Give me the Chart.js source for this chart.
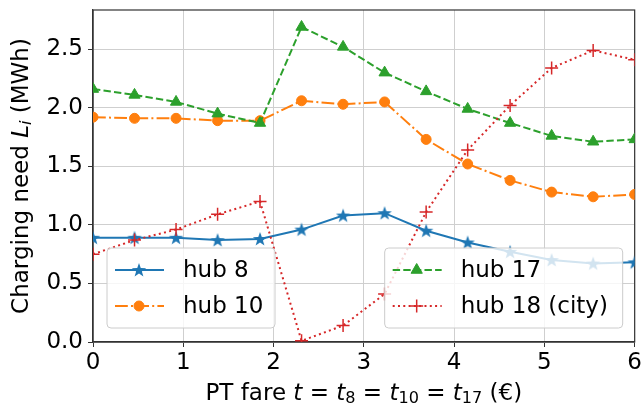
<!DOCTYPE html>
<html>
<head>
<meta charset="utf-8">
<script src="https://cdn.jsdelivr.net/npm/chart.js@4.4.1/dist/chart.umd.min.js"></script>
<style>
  html, body { margin: 0; padding: 0; background: #fff; }
  #wrap { width: 644px; height: 408px; }
</style>
</head>
<body>
<div id="wrap"><canvas id="chart" width="644" height="408"></canvas></div>
<script>
// PT fare (x) and charging need per hub (MWh)
const fares = [0, 0.46, 0.92, 1.38, 1.85, 2.31, 2.77, 3.23, 3.69, 4.15, 4.62, 5.08, 5.54, 6.0];
const hub8  = [0.89, 0.89, 0.89, 0.87, 0.88, 0.96, 1.08, 1.10, 0.95, 0.85, 0.77, 0.70, 0.67, 0.68];
const hub10 = [1.92, 1.91, 1.91, 1.89, 1.89, 2.06, 2.03, 2.05, 1.73, 1.52, 1.38, 1.28, 1.24, 1.26];
const hub17 = [2.16, 2.11, 2.05, 1.95, 1.87, 2.69, 2.52, 2.30, 2.14, 1.99, 1.87, 1.76, 1.71, 1.73];
const hub18 = [0.75, 0.87, 0.96, 1.09, 1.20, 0.01, 0.14, 0.41, 1.11, 1.64, 2.02, 2.34, 2.49, 2.41];
const xTicks = [0, 1, 2, 3, 4, 5, 6];
const yTicks = [0, 0.5, 1.0, 1.5, 2.0, 2.5];

const FONT = '"DejaVu Sans", sans-serif';
const FS = 23;

// filled star marker like matplotlib '*'
function makeStar(color) {
  const c = document.createElement("canvas");
  c.width = 18; c.height = 18;
  const g = c.getContext("2d");
  g.beginPath();
  for (let i = 0; i < 10; i++) {
    const r = i % 2 === 0 ? 7.5 : 3.0;
    const a = -Math.PI / 2 + i * Math.PI / 5;
    const px = 9 + r * Math.cos(a), py = 9.5 + r * Math.sin(a);
    if (i === 0) g.moveTo(px, py); else g.lineTo(px, py);
  }
  g.closePath();
  g.fillStyle = color;
  g.fill();
  return c;
}
const starImg = makeStar("#1f77b4");

function pts(ys) {
  return fares.map((x, i) => ({ x: x, y: ys[i] }));
}

const datasets = [
  { label: "hub 8", data: pts(hub8), borderColor: "#1f77b4", backgroundColor: "#1f77b4",
    borderWidth: 2, pointStyle: starImg, pointRadius: 7, borderDash: [], order: 4 },
  { label: "hub 10", data: pts(hub10), borderColor: "#ff7f0e", backgroundColor: "#ff7f0e",
    borderWidth: 2, pointStyle: "circle", pointRadius: 5, pointBorderWidth: 1, borderDash: [12.8, 3.2, 2, 3.2], order: 3 },
  { label: "hub 17", data: pts(hub17), borderColor: "#2ca02c", backgroundColor: "#2ca02c",
    borderWidth: 2, pointStyle: "triangle", pointRadius: 6.5, pointBorderWidth: 1, borderDash: [7.4, 3.2], order: 2 },
  { label: "hub 18 (city)", data: pts(hub18), borderColor: "#d62728", backgroundColor: "#d62728",
    borderWidth: 2, pointStyle: "cross", pointRadius: 6.5, pointBorderWidth: 1.5, borderDash: [2, 3.3], order: 1 },
];

// draw text pieces with italic / subscript parts
function drawRich(ctx, parts, size) {
  const widths = parts.map(p => {
    ctx.font = (p.it ? "italic " : "") + (p.sub ? size * 0.7 : size) + "px " + FONT;
    return ctx.measureText(p.t).width;
  });
  const total = widths.reduce((a, b) => a + b, 0);
  let x = -total / 2;
  parts.forEach((p, i) => {
    ctx.font = (p.it ? "italic " : "") + (p.sub ? size * 0.7 : size) + "px " + FONT;
    ctx.fillText(p.t, x, p.sub ? size * 0.22 : 0);
    x += widths[i];
  });
}

const titlesPlugin = {
  id: "titles",
  afterDraw(chart) {
    const ctx = chart.ctx, a = chart.chartArea;
    ctx.save();
    ctx.fillStyle = "#000";
    ctx.textBaseline = "middle";
    ctx.textAlign = "left";
    ctx.save();
    ctx.translate((a.left + a.right) / 2, 394);
    drawRich(ctx, [
      { t: "PT fare " }, { t: "t", it: 1 }, { t: " = " }, { t: "t", it: 1 }, { t: "8", sub: 1 },
      { t: " = " }, { t: "t", it: 1 }, { t: "10", sub: 1 }, { t: " = " }, { t: "t", it: 1 }, { t: "17", sub: 1 },
      { t: " (€)" }
    ], FS);
    ctx.restore();
    ctx.save();
    ctx.translate(22, (a.top + a.bottom) / 2);
    ctx.rotate(-Math.PI / 2);
    drawRich(ctx, [
      { t: "Charging need " }, { t: "L", it: 1 }, { t: "i", it: 1, sub: 1 }, { t: " (MWh)" }
    ], FS);
    ctx.restore();
    ctx.restore();
  }
};

const framePlugin = {
  id: "frame",
  beforeDatasetsDraw(chart) {
    const ctx = chart.ctx, a = chart.chartArea;
    ctx.save();
    ctx.strokeStyle = "#333";
    ctx.lineWidth = 1.2;
    ctx.strokeRect(a.left, a.top, a.right - a.left, a.bottom - a.top);
    ctx.restore();
  }
};

function drawLegendBox(chart, idxs, left, top, w, h) {
  const ctx = chart.ctx;
  ctx.save();
  ctx.beginPath();
  ctx.roundRect(left, top, w, h, 4);
  ctx.fillStyle = "rgba(255,255,255,0.8)";
  ctx.fill();
  ctx.strokeStyle = "#cccccc";
  ctx.lineWidth = 1;
  ctx.stroke();
  idxs.forEach((di, row) => {
    const ds = chart.data.datasets[di];
    const y = top + 22 + row * 36;
    ctx.beginPath();
    ctx.setLineDash(ds.borderDash);
    ctx.strokeStyle = ds.borderColor;
    ctx.lineWidth = ds.borderWidth;
    ctx.moveTo(left + 8, y);
    ctx.lineTo(left + 57, y);
    ctx.stroke();
    ctx.setLineDash([]);
    ctx.fillStyle = ds.backgroundColor;
    ctx.strokeStyle = ds.borderColor;
    ctx.lineWidth = ds.pointBorderWidth || 1;
    Chart.helpers.drawPoint(ctx, { pointStyle: ds.pointStyle, radius: ds.pointRadius, rotation: 0, borderWidth: ds.pointBorderWidth || 1 }, left + 32, y);
    ctx.fillStyle = "#000";
    ctx.font = FS + "px " + FONT;
    ctx.textBaseline = "middle";
    ctx.textAlign = "left";
    ctx.fillText(ds.label, left + 76, y + 1);
  });
  ctx.restore();
}

const legendPlugin = {
  id: "twoLegends",
  afterDatasetsDraw(chart) {
    const a = chart.chartArea;
    drawLegendBox(chart, [0, 1], a.left + 14, a.bottom - 94, 168, 80);
    drawLegendBox(chart, [2, 3], a.right - 250, a.bottom - 94, 238, 80);
  }
};

new Chart(document.getElementById("chart"), {
  type: "line",
  data: { datasets: datasets },
  options: {
    responsive: false,
    animation: false,
    devicePixelRatio: 1,
    layout: { padding: { left: 0, right: 6, top: 10, bottom: 0 } },
    plugins: { legend: { display: false }, tooltip: { enabled: false } },
    elements: { line: { tension: 0 } },
    scales: {
      x: {
        type: "linear", min: 0, max: 6,
        afterBuildTicks: s => { s.ticks = xTicks.map(v => ({ value: v })); },
        afterFit: s => { s.height = 66; },
        ticks: { color: "#000", font: { family: FONT, size: FS }, padding: 2, maxRotation: 0,
                 callback: v => String(v) },
        grid: { color: "#cfcfcf", lineWidth: 1, tickColor: "#333", tickLength: 5 },
        border: { color: "#333", width: 1.2 }
      },
      y: {
        type: "linear", min: 0, max: 2.835,
        afterBuildTicks: s => { s.ticks = yTicks.map(v => ({ value: v })); },
        afterFit: s => { s.width = 93; s.paddingTop = 0; s.paddingBottom = 0; },
        ticks: { color: "#000", font: { family: FONT, size: FS }, padding: 5,
                 callback: v => Number(v).toFixed(1) },
        grid: { color: "#cfcfcf", lineWidth: 1, tickColor: "#333", tickLength: 5 },
        border: { color: "#333", width: 1.2 }
      }
    }
  },
  plugins: [framePlugin, legendPlugin, titlesPlugin]
});
</script>
</body>
</html>
